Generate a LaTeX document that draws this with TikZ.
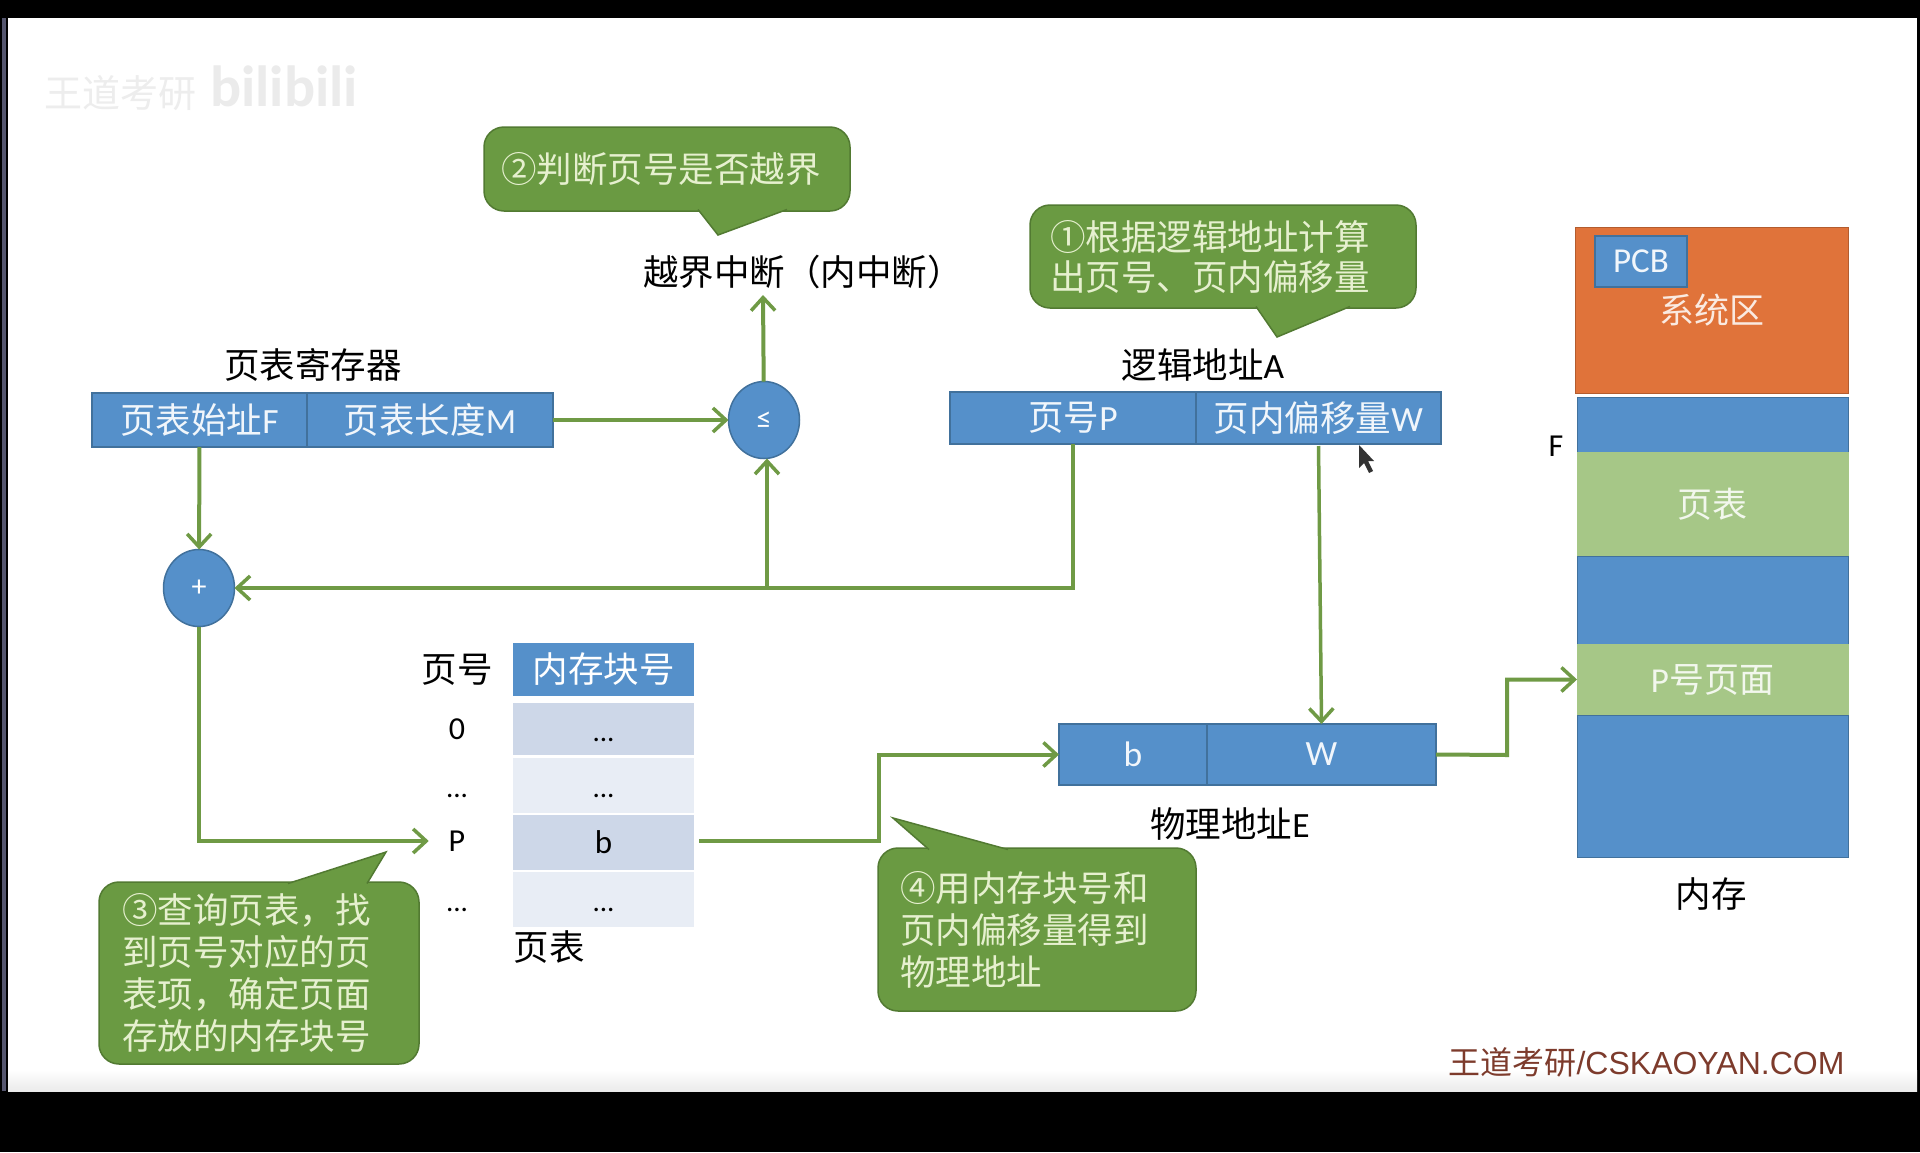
\documentclass[tikz,border=0pt]{standalone}
\usepackage{fontspec}
\setmainfont{Carlito}
\newfontfamily\cjk{Noto Sans CJK SC}
\newfontfamily\arialfont{Liberation Sans}
\usetikzlibrary{shapes.geometric, arrows.meta, positioning, calc}

\definecolor{cellblue}{HTML}{5590CA}
\definecolor{celledge}{HTML}{41719C}
\definecolor{sysorange}{HTML}{E0733A}
\definecolor{lightgreen}{HTML}{A6C787}
\definecolor{notegreen}{HTML}{6A9A42}
\definecolor{noteedge}{HTML}{527A32}
\definecolor{notetext}{HTML}{E6F0CF}
\definecolor{linegreen}{HTML}{6F9A45}
\definecolor{rowdark}{HTML}{CDD7E8}
\definecolor{rowlight}{HTML}{E8EDF5}
\definecolor{markred}{HTML}{7D3B2C}
\definecolor{stripe}{HTML}{55566E}

\newcommand{\lowdots}{\smash{\raisebox{-12pt}{...}}}

\begin{document}
\begin{tikzpicture}[x=1pt, y=-1pt, node distance=0pt, >=stealth]
    % Styles
    \tikzstyle{cell} = [rectangle, draw=celledge, line width=1.2pt, fill=cellblue, text=white!92!cellblue, outer sep=0pt, inner sep=0pt, font=\cjk\fontsize{35.5}{42}\selectfont]
    \tikzstyle{circ} = [ellipse, draw=celledge, line width=1.5pt, fill=cellblue, text=white, inner sep=0pt, outer sep=0pt, minimum width=71pt, minimum height=77pt, font=\fontsize{30}{36}\selectfont]
    \tikzstyle{note} = [rectangle, rounded corners=20pt, draw=noteedge, line width=1.5pt, fill=notegreen, text=notetext, align=left, outer sep=0pt, inner ysep=0pt, font=\cjk\fontsize{35.5}{42}\selectfont]
    \tikzstyle{tip} = [draw=noteedge, line width=1.5pt, fill=notegreen, line join=miter]
    \tikzstyle{label} = [inner sep=0pt, outer sep=0pt, text=black, font=\cjk\fontsize{35.5}{42}\selectfont]
    \tikzstyle{mem} = [rectangle, fill=cellblue, draw=celledge, line width=0.8pt, minimum width=271pt, text=white!92!cellblue, inner sep=0pt, outer sep=0pt, font=\cjk\fontsize{35}{42}\selectfont]
    \tikzstyle{row} = [rectangle, minimum width=181pt, inner sep=0pt, outer sep=0pt, text=black, font=\fontsize{29}{36}\selectfont]
    \tikzstyle{index} = [inner sep=0pt, outer sep=0pt, text=black, font=\fontsize{32}{38}\selectfont]
    \tikzstyle{line} = [draw=linegreen, line width=4pt, -{Straight Barb[length=13pt, width=24pt, line width=3.5pt]}]

    % Screen
    \fill [black] (0,0) rectangle (1920,1152);
    \fill [white] (8,18) rectangle (1917,1091);
    \fill [stripe] (2,18) rectangle (6,1091);
    \shade [top color=white, bottom color=black!8] (8,1070) rectangle (1917,1091);
    \node [label, text=black!7, font=\cjk\fontsize{38}{44}\selectfont] (logotext) at (120,93) {王道考研};
    \node [label, text=black!8, font=\bfseries\fontsize{58}{64}\selectfont] (logobili) at (284,86) {bilibili};

    % Page table register
    \node [cell, minimum width=215pt, minimum height=54pt] (regf) at (199.5,420) {页表始址{\rmfamily F}};
    \node [cell, minimum width=246pt, minimum height=54pt, right=of regf] (regm) {页表长度{\rmfamily M}};
    \node [label] (reglabel) at (313,365) {页表寄存器};
    \node [circ] (leq) at (764,420) {≤};
    \node [circ] (plus) at (199,588) {+};
    \node [label] (over) at (803,272) {越界中断（内中断）};
    \coordinate (overpt) at (763,295);

    % Logical address
    \node [cell, minimum width=246pt, minimum height=52pt] (lpage) at (1073,418) {页号{\rmfamily P}};
    \node [cell, minimum width=245pt, minimum height=52pt, right=of lpage] (loff) {页内偏移量{\rmfamily W}};
    \node [label] (llabel) at (1203,365) {逻辑地址{\rmfamily A}};

    % Physical address
    \node [cell, minimum width=148pt, minimum height=61pt] (pb) at (1133,754.5) {\rmfamily b};
    \node [cell, minimum width=229pt, minimum height=61pt, right=of pb] (pw) {\rmfamily W};
    \node [label] (plabel) at (1230,824) {物理地址{\rmfamily E}};

    % Page table
    \node [row, fill=cellblue, minimum height=53pt, text=white, font=\cjk\fontsize{35.5}{42}\selectfont] (thead) at (603.5,669.5) {内存块号};
    \node [row, fill=rowdark, minimum height=52pt] (row0) at (603.5,729) {\lowdots};
    \node [row, fill=rowlight, minimum height=55pt] (row1) at (603.5,785.5) {\lowdots};
    \node [row, fill=rowdark, minimum height=55pt, font=\fontsize{33}{38}\selectfont] (rowp) at (603.5,842.5) {b};
    \node [row, fill=rowlight, minimum height=55pt] (row3) at (603.5,899.5) {\lowdots};
    \node [label] (pagehead) at (457,670) {页号};
    \node [index] (idx0) at (457,729) {0};
    \node [index, font=\fontsize{29}{36}\selectfont] (idx1) at (457,785.5) {\lowdots};
    \node [index] (idxp) at (457,841) {P};
    \node [index, font=\fontsize{29}{36}\selectfont] (idx3) at (457,899.5) {\lowdots};
    \node [label] (tablelabel) at (549,947) {页表};

    % Memory
    \node [mem, fill=sysorange, draw=sysorange!80!black, minimum width=273pt, minimum height=166pt, text=white!85!sysorange] (sys) at (1711.5,310) {系统区};
    \node [cell, minimum width=92pt, minimum height=51pt, font=\fontsize{35}{40}\selectfont] (pcb) at (1641,261.5) {PCB};
    \node [mem, minimum height=55pt] (mem1) at (1712.5,424.5) {};
    \node [mem, fill=lightgreen, draw=lightgreen, minimum height=104pt, below=of mem1, text=white!85!lightgreen] (mempt) {页表};
    \node [mem, minimum height=88pt, below=of mempt] (mem2) {};
    \node [mem, fill=lightgreen, draw=lightgreen, minimum height=71pt, below=of mem2, text=white!85!lightgreen] (mempage) {{\rmfamily P}号页面};
    \node [mem, minimum height=142pt, below=of mempage] (mem3) {};
    \node [index] (flabel) at (1556,446) {F};
    \node [label] (memlabel) at (1711,894) {内存};

    % Notes
    \node [note, inner xsep=17pt, text width=332pt, minimum height=84pt] (note2) at (667,169) {②判断页号是否越界};
    \draw [tip] (698,209.5) -- (718,235) -- (787,209.5);
    \node [note, inner xsep=20pt, text width=346pt, minimum height=103pt] (note1) at (1223,256.5) {①根据逻辑地址计算\\[-2pt]出页号、页内偏移量};
    \draw [tip] (1256,306.5) -- (1277,337) -- (1350,306.5);
    \node [note, inner xsep=23pt, text width=274pt, minimum height=182pt] (note3) at (259,973) {③查询页表，找\\到页号对应的页\\表项，确定页面\\存放的内存块号};
    \draw [tip] (288,883.5) -- (386,852) -- (367,883.5);
    \node [note, inner xsep=22pt, text width=274pt, minimum height=163pt] (note4) at (1037,929.5) {④用内存块号和\\页内偏移量得到\\物理地址};
    \draw [tip] (929,849.5) -- (893,818) -- (1008,849.5);

    % Brand
    \node [inner sep=0pt, text=markred, font=\fontsize{32}{38}\selectfont] (brand) at (1646.5,1062) {{\cjk 王道考研}{\arialfont /CSKAOYAN.COM}};

    % Paths
    \path [line] (regf) -- (plus);
    \path [line] (regm) -- (leq);
    \path [line] (leq) -- (overpt);
    \path [line] (lpage.south) |- (plus.east);
    \coordinate (junc) at (767,589);
    \path [line] (junc) -- (junc |- leq.south);
    \path [line, shorten >=20pt] (plus.south) |- (idxp.west);
    \path [line, shorten <=5pt] (rowp.east |- idxp) -- (879,841) |- (pb.west);
    \path [line, line width=3.5pt, shorten <=2pt] (loff.south) -- (pw.north);
    \path [line] (pw.east) -- (1507,755) |- (mempage.west);

    % Mouse pointer
    \fill [black!80] (1359,445) -- (1359,468) -- (1364,463) -- (1369,473) -- (1373,471) -- (1368,461) -- (1374,461) -- cycle;
\end{tikzpicture}
\end{document}
